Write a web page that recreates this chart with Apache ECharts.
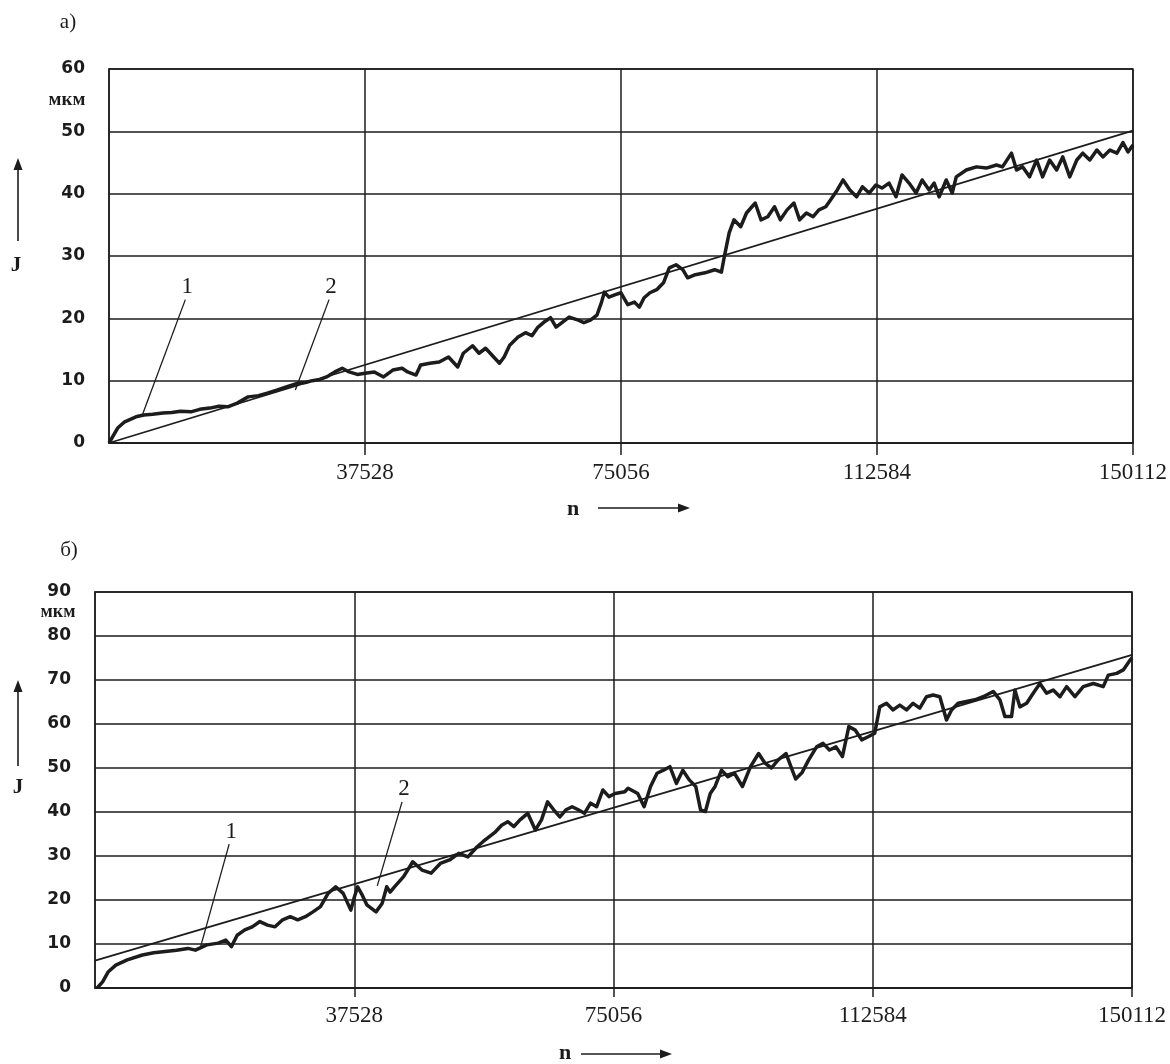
<!DOCTYPE html>
<html>
<head>
<meta charset="utf-8">
<title>Износ J в зависимости от n</title>
<script src="https://cdn.jsdelivr.net/npm/echarts@6/dist/echarts.min.js"></script>
<style>
  html, body { margin: 0; padding: 0; background: #fff; }
  #chart { width: 1170px; height: 1064px; }
</style>
</head>
<body>
<div id="chart"></div>
<script>
// ось n (число циклов)
const xTicks = [0, 37528, 75056, 112584, 150112];

// а) кривая 1 — измеренный износ
const nTop = [0, 1270, 2300, 3950, 5100, 6400, 7900, 9200, 10500, 12000,
  13300, 14800, 16100, 17400, 18800, 20400, 21900, 23200, 24700, 26000,
  27700, 28800, 29800, 30900, 31900, 33100, 34200, 35200, 36400,
  37528, 38890, 40250, 41610, 42970, 43780, 45010, 45690, 47050, 48410,
  49770, 51130, 51940, 53300, 54250, 55210, 56570, 57250, 57930, 58740,
  59970, 61060, 62010, 62820, 63780, 64730, 65540, 66500, 67450, 68810,
  69620, 70580, 71530, 72210, 72620, 73290, 74240,
  75056, 76050, 77040, 77750, 78450, 79300, 80300, 81290, 82140, 83130,
  84120, 84830, 85960, 87380, 88790, 89780, 90210, 90920, 91620, 92610,
  93460, 94740, 95590, 96580, 97570, 98420, 99410, 100410, 101250, 102240,
  103230, 104080, 105080, 105780, 106770, 107620, 108610, 109600, 110450, 111450,
  112440,
  113320, 114350, 115380, 116260, 117290, 118320, 119210, 120240, 120970, 121710,
  122740, 123620, 124210, 125680, 127160, 128630, 130100, 130990, 132310, 133050,
  133930, 134960, 135990, 136870, 137900, 138930, 139820, 140850, 141880, 142760,
  143790, 144820, 145710, 146740, 147770, 148650, 149390, 150112];
const jTop = [0, 2.4, 3.4, 4.2, 4.5, 4.6, 4.8, 4.9, 5.1, 5.0,
  5.4, 5.6, 5.9, 5.8, 6.4, 7.4, 7.6, 8.0, 8.5, 9.0,
  9.6, 9.7, 10.0, 10.2, 10.6, 11.4, 12.0, 11.4, 11.0,
  11.2, 11.4, 10.6, 11.7, 12.0, 11.4, 10.9, 12.5, 12.8, 13.0,
  13.8, 12.2, 14.4, 15.6, 14.4, 15.2, 13.6, 12.8, 13.8, 15.7,
  17.0, 17.7, 17.2, 18.5, 19.4, 20.1, 18.6, 19.4, 20.2, 19.7,
  19.3, 19.7, 20.5, 22.6, 24.2, 23.4, 23.8,
  24.1, 22.2, 22.6, 21.8, 23.3, 24.1, 24.6, 25.7, 28.1, 28.6,
  27.8, 26.5, 27.0, 27.3, 27.8, 27.4, 29.9, 33.7, 35.8, 34.7,
  36.9, 38.5, 35.8, 36.3, 37.9, 35.8, 37.4, 38.5, 35.8, 36.9,
  36.3, 37.4, 37.9, 39.0, 40.6, 42.2, 40.6, 39.5, 41.1, 40.1,
  41.4,
  40.9, 41.7, 39.5, 43.0, 41.7, 40.1, 42.2, 40.6, 41.7, 39.5,
  42.2, 40.1, 42.7, 43.8, 44.3, 44.1, 44.6, 44.3, 46.5, 43.8,
  44.3, 42.7, 45.4, 42.7, 45.4, 43.8, 45.9, 42.7, 45.4, 46.5,
  45.4, 47.0, 45.9, 47.0, 46.5, 48.2, 46.7, 47.8];
// а) кривая 2 — аппроксимация
const nTopTrend = [0, 150112];
const jTopTrend = [0, 50.1];

// б) кривая 1
const nBot = [300, 1100, 1930, 3010, 4660, 6860, 8510, 10160, 11800, 13450,
  14530, 16180, 17830, 18930, 19750, 20580, 21680, 22760, 23870, 24970,
  26060, 27160, 28260, 29350, 30450, 31550, 32640, 33740, 34840, 35930,
  37030,
  37570, 38020, 38690, 39350, 40680, 41560, 42230, 42720, 43350, 44670,
  46000, 47330, 48660, 49990, 51320, 52660, 53990, 55320, 56200, 57090,
  57980, 58860, 59750, 60640, 61520, 62640, 63740, 64630, 65510, 66400,
  67290, 68180, 69070, 69960, 70850, 71740, 72620, 73510, 74400,
  75290, 76690, 77160, 78560, 79490, 80420, 81360, 82290, 83220, 84160,
  85090, 86020, 86960, 87660, 88360, 89060, 89760, 90690, 91620, 92560,
  93720, 94890, 96060, 96990, 97920, 98860, 100020, 101420, 102360, 103290,
  104460, 105390, 106320, 107260, 108190, 109120, 110060, 110990, 111920,
  112870, 113600, 114570, 115530, 116500, 117470, 118420, 119390, 120370, 121320,
  122290, 123260, 123990, 124940, 126160, 127360, 128570, 130020, 130990, 131710,
  132680, 133160, 133880, 134860, 135810, 136780, 137750, 138710, 139680, 140650,
  141850, 143060, 144510, 145950, 146680, 147900, 148850, 149820, 150112];
const jBot = [0, 1.4, 3.7, 5.2, 6.4, 7.5, 8.0, 8.3, 8.6, 9.0,
  8.6, 9.8, 10.2, 10.9, 9.4, 12.0, 13.2, 13.9, 15.1, 14.3,
  13.9, 15.5, 16.2, 15.5, 16.2, 17.3, 18.5, 21.5, 23.0, 21.5,
  17.7,
  20.8, 23.0, 21.1, 18.9, 17.3, 19.2, 23.0, 21.8, 23.0, 25.3,
  28.7, 26.8, 26.1, 28.3, 29.1, 30.6, 29.8, 32.1, 33.3, 34.4,
  35.5, 37.0, 37.8, 36.7, 38.2, 39.7, 35.9, 38.2, 42.3, 40.5,
  38.9, 40.5, 41.2, 40.5, 39.7, 42.0, 41.2, 45.0, 43.5,
  44.2, 44.6, 45.4, 44.2, 41.2, 45.8, 48.8, 49.5, 50.3, 46.5,
  49.5, 47.3, 45.8, 40.5, 40.1, 44.2, 45.8, 49.5, 48.0, 48.8,
  45.8, 50.3, 53.3, 51.1, 50.0, 51.8, 53.3, 47.5, 49.0, 51.8,
  54.8, 55.6, 54.1, 54.8, 52.6, 59.4, 58.6, 56.4, 57.1,
  57.9, 63.9, 64.7, 63.2, 64.3, 63.2, 64.7, 63.6, 66.2, 66.6,
  66.2, 60.9, 63.2, 64.7, 65.1, 65.5, 66.2, 67.4, 65.5, 61.7,
  61.7, 67.7, 63.9, 64.7, 67.0, 69.2, 67.0, 67.7, 66.2, 68.5,
  66.2, 68.5, 69.2, 68.5, 71.1, 71.5, 72.3, 74.5, 75.0];
// б) кривая 2
const nBotTrend = [0, 150112];
const jBotTrend = [6.2, 75.7];

// выноски "1" и "2": начало на кривой и конец под цифрой (n, J)
const leaderNames = ["1", "2"];
const leaderTopFrom = [[4940, 4.65], [27320, 8.5]];
const leaderTopTo = [[11190, 23.0], [32260, 23.0]];
const leaderBotFrom = [[15310, 9.5], [40860, 23.2]];
const leaderBotTo = [[19420, 32.7], [44450, 42.3]];

(function () {
  var myChart = echarts.init(document.getElementById("chart"), null, { renderer: "canvas" });
  const ink = "#1c1c1c";
  const pairs = (ns, js) => ns.map((n, i) => [n, js[i]]);

  const xAxis = (gi, margin, tick) => ({
    type: "value",
    gridIndex: gi,
    min: 0,
    max: xTicks[xTicks.length - 1],
    interval: xTicks[1],
    axisLine: { show: true, onZero: false, lineStyle: { color: ink, width: 1.5 } },
    axisTick: { show: true, length: tick, customValues: xTicks.slice(1), lineStyle: { color: ink, width: 1.5 } },
    axisLabel: {
      customValues: xTicks.slice(1),
      formatter: (v) => String(v),
      color: ink,
      fontFamily: "Liberation Serif",
      fontSize: 23,
      margin: margin,
    },
    splitLine: { show: true, lineStyle: { color: ink, width: 1.5 } },
  });
  const yAxis = (gi, max) => ({
    type: "value",
    gridIndex: gi,
    min: 0,
    max: max,
    interval: 10,
    axisLine: { show: true, lineStyle: { color: ink, width: 1.5 } },
    axisTick: { show: false },
    axisLabel: {
      color: ink,
      fontFamily: "DejaVu Sans",
      fontWeight: "bold",
      fontSize: 17,
      margin: 24,
    },
    splitLine: { show: true, lineStyle: { color: ink, width: 1.5 } },
  });

  const series = [];
  const addChart = (gi, ns, js, tn, tj, from, to) => {
    series.push({
      type: "line", xAxisIndex: gi, yAxisIndex: gi,
      data: pairs(ns, js), showSymbol: false, z: 4,
      lineStyle: { color: ink, width: 3.5, join: "round" },
    });
    series.push({
      type: "line", xAxisIndex: gi, yAxisIndex: gi,
      data: pairs(tn, tj), showSymbol: false, z: 3,
      lineStyle: { color: ink, width: 1.8 },
    });
    leaderNames.forEach((name, k) => {
      series.push({
        type: "line", xAxisIndex: gi, yAxisIndex: gi,
        data: [from[k], to[k]], showSymbol: false, z: 5,
        lineStyle: { color: ink, width: 1.3 },
      });
    });
  };
  addChart(0, nTop, jTop, nTopTrend, jTopTrend, leaderTopFrom, leaderTopTo);
  addChart(1, nBot, jBot, nBotTrend, jBotTrend, leaderBotFrom, leaderBotTo);

  const txt = (x, y, text, font, vAlign) => ({
    type: "text", x: x, y: y, z: 10,
    style: {
      text: text, fill: ink,
      font: font,
      align: "center", verticalAlign: vAlign || "middle",
    },
  });
  const arrow = (x1, y1, x2, y2) => {
    const dx = x2 - x1, dy = y2 - y1, len = Math.hypot(dx, dy);
    const ux = dx / len, uy = dy / len, hl = 12, hw = 4.5;
    const bx = x2 - ux * hl, by = y2 - uy * hl;
    return [
      { type: "line", z: 10, shape: { x1: x1, y1: y1, x2: bx, y2: by }, style: { stroke: ink, lineWidth: 1.6 } },
      { type: "polygon", z: 10, shape: { points: [[x2, y2], [bx - uy * hw, by + ux * hw], [bx + uy * hw, by - ux * hw]] }, style: { fill: ink } },
    ];
  };

  var option = {
    backgroundColor: "#fff",
    animation: false,
    grid: [
      { left: 109, top: 69, width: 1024, height: 374, show: true, borderColor: ink, borderWidth: 1.5 },
      { left: 95, top: 592, width: 1037, height: 396, show: true, borderColor: ink, borderWidth: 1.5 },
    ],
    xAxis: [xAxis(0, 18, 12), xAxis(1, 16, 9)],
    yAxis: [yAxis(0, 60), yAxis(1, 90)],
    series: series,
  };
  myChart.setOption(option);

  // подписи выносок ставятся над концом каждой выноски
  const numberLabels = [];
  [[0, leaderTopTo], [1, leaderBotTo]].forEach(([gi, ends]) => {
    ends.forEach((pt, k) => {
      const p = myChart.convertToPixel({ gridIndex: gi }, pt);
      numberLabels.push(txt(p[0] + 2, p[1] - 1, leaderNames[k], "23px 'Liberation Serif'", "bottom"));
    });
  });

  myChart.setOption({
    graphic: [
      txt(68, 22, "а)", "21px 'Liberation Serif'"),
      txt(69, 550, "б)", "21px 'Liberation Serif'"),
      txt(67, 100, "мкм", "bold 19px 'Liberation Serif'"),
      txt(58, 612, "мкм", "bold 18px 'Liberation Serif'"),
      txt(16, 266, "J", "bold 21px 'Liberation Serif'"),
      txt(18, 788, "J", "bold 21px 'Liberation Serif'"),
      txt(573, 509, "n", "bold 22px 'Liberation Serif'"),
      txt(565, 1053, "n", "bold 22px 'Liberation Serif'"),
    ]
      .concat(numberLabels)
      .concat(arrow(18, 241, 18, 158))
      .concat(arrow(18, 766, 18, 680))
      .concat(arrow(598, 508, 690, 508))
      .concat(arrow(581, 1054, 672, 1054)),
  });

  window.addEventListener("resize", function () {
    myChart.resize();
  });
})();
</script>
</body>
</html>
